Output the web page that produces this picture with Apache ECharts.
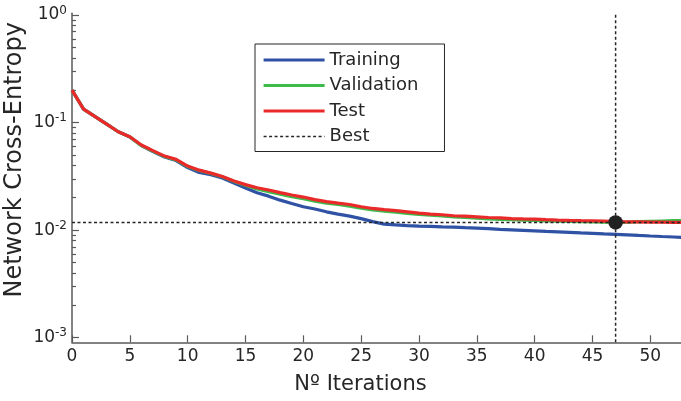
<!DOCTYPE html>
<html><head><meta charset="utf-8">
<script src="https://cdn.jsdelivr.net/npm/echarts@6/dist/echarts.min.js"></script>
<style>html,body{margin:0;padding:0;background:#fff}#c{width:681px;height:401px}</style>
</head><body><div id="c"></div>
<script>
const iterations = [0,1,2,3,4,5,6,7,8,9,10,11,12,13,14,15,16,17,18,19,20,21,22,23,24,25,26,27,28,29,30,31,32,33,34,35,36,37,38,39,40,41,42,43,44,45,46,47,48,49,50,51,52,53];
const training = [0.2005,0.1335,0.1134,0.0966,0.0821,0.0733,0.0611,0.0537,0.0478,0.0443,0.0381,0.0344,0.0328,0.0305,0.0274,0.0246,0.0223,0.0207,0.0190,0.0177,0.0165,0.0157,0.0148,0.0141,0.0135,0.0128,0.0120,0.01137,0.01118,0.01101,0.01090,0.01083,0.01074,0.01067,0.01055,0.01044,0.01033,0.01017,0.01006,0.00995,0.00984,0.00973,0.00963,0.00953,0.00942,0.00932,0.00922,0.00914,0.00905,0.00893,0.00882,0.00872,0.00863,0.00851];
const validation = [0.2005,0.1335,0.1134,0.0966,0.0821,0.0736,0.0610,0.0543,0.0483,0.0450,0.0390,0.0358,0.0337,0.0313,0.0284,0.0262,0.0241,0.0228,0.0216,0.0205,0.0196,0.0186,0.0178,0.0173,0.0167,0.0160,0.0154,0.0150,0.0147,0.0143,0.0140,0.0138,0.01355,0.0133,0.0131,0.0129,0.0127,0.01261,0.0125,0.0124,0.01232,0.01221,0.01213,0.01206,0.01198,0.01193,0.01187,0.01179,0.01187,0.01198,0.01208,0.01216,0.01223,0.01229];
const test = [0.2005,0.1335,0.1134,0.0966,0.0821,0.0738,0.0618,0.0549,0.0488,0.0455,0.0394,0.0361,0.0339,0.0315,0.0286,0.0265,0.0248,0.0236,0.0223,0.0212,0.0203,0.0192,0.0184,0.0178,0.0173,0.0165,0.0159,0.0155,0.0152,0.0148,0.0144,0.0141,0.0139,0.0136,0.0135,0.0133,0.0131,0.0130,0.0128,0.0127,0.01266,0.0125,0.0124,0.01232,0.01226,0.01221,0.01213,0.01200,0.01195,0.01193,0.01187,0.01187,0.01182,0.01179];
const bestEpoch = 47;
const bestPerf = 0.01179;
const xMin = 0, xMax = 53;
const yMin = 0.000906, yMax = 1.037;
const xTicks = [0,5,10,15,20,25,30,35,40,45,50];
const yMajorTicks = [0.001,0.01,0.1,1];
const yMinorTicks = [0.002,0.003,0.004,0.005,0.006,0.007,0.008,0.009,0.02,0.03,0.04,0.05,0.06,0.07,0.08,0.09,0.2,0.3,0.4,0.5,0.6,0.7,0.8,0.9];

const pair = arr => iterations.map((x, i) => [x, arr[i]]);
const axisColor = '#5a5a5a';
const textColor = '#262626';
const font = 'DejaVu Sans';
const bestStyle = {color: '#262626', width: 1.5, type: [3, 2.5]};
const lw = 3.2;

const chart = echarts.init(document.getElementById('c'), null, {renderer: 'canvas'});
chart.setOption({
  backgroundColor: '#fff',
  animation: false,
  textStyle: {fontFamily: font},
  grid: {left: 72, right: -4, top: 13.3, bottom: 58.7, outerBoundsMode: 'none', containLabel: false},
  legend: {
    orient: 'vertical', left: 255, top: 44,
    padding: [7, 26, 6, 7], itemGap: 7.5, itemWidth: 61, itemHeight: 18,
    borderColor: '#262626', borderWidth: 1, backgroundColor: '#fff',
    itemStyle: {opacity: 0},
    textStyle: {fontFamily: font, fontSize: 18, color: textColor, lineHeight: 18},
    data: [
      {name: 'Training', lineStyle: {width: lw}},
      {name: 'Validation', lineStyle: {width: lw}},
      {name: 'Test', lineStyle: {width: lw}},
      {name: 'Best', lineStyle: {width: 1.5}}
    ]
  },
  xAxis: {
    type: 'value', min: xMin, max: xMax,
    name: 'Nº Iterations', nameLocation: 'middle', nameGap: 32, nameMoveOverlap: false,
    nameTextStyle: {fontFamily: font, fontSize: 21, color: textColor, padding: [0, 36, 0, 0]},
    axisLine: {show: true, lineStyle: {color: axisColor, width: 1.5}},
    axisTick: {show: true, inside: true, length: 7, customValues: xTicks, lineStyle: {color: axisColor, width: 1.2}},
    axisLabel: {customValues: xTicks, margin: 6, fontFamily: font, fontSize: 17, color: textColor},
    splitLine: {show: false}
  },
  yAxis: [{
    type: 'log', min: yMin, max: yMax, position: 'left',
    name: 'Network Cross-Entropy', nameLocation: 'middle', nameGap: 45, nameMoveOverlap: false,
    nameTextStyle: {fontFamily: font, fontSize: 24, color: textColor, padding: [0, 0, 0, 36]},
    axisLine: {show: true, lineStyle: {color: axisColor, width: 1.5}},
    axisTick: {show: true, inside: true, length: 7, customValues: yMajorTicks, lineStyle: {color: axisColor, width: 1.2}},
    axisLabel: {
      customValues: yMajorTicks, margin: 5, color: textColor,
      formatter: v => '{b|10}{s|' + Math.round(Math.log10(v)) + '}',
      rich: {b: {fontFamily: font, fontSize: 17, color: textColor}, s: {fontFamily: font, fontSize: 12, color: textColor, padding: [0,0,9,0]}}
    },
    splitLine: {show: false}
  }, {
    type: 'log', min: yMin, max: yMax, position: 'left', offset: 0,
    axisLine: {show: false},
    axisTick: {show: true, inside: true, length: 4, customValues: yMinorTicks, lineStyle: {color: axisColor, width: 1.2}},
    axisLabel: {show: false},
    splitLine: {show: false}
  }],
  series: [
    {name: 'Training', type: 'line', data: pair(training), showSymbol: false, symbol: 'none', lineStyle: {color: '#2f52a4', width: lw}, itemStyle: {color: '#2f52a4'}, z: 2},
    {name: 'Validation', type: 'line', data: pair(validation), showSymbol: false, symbol: 'none', lineStyle: {color: '#3dba4a', width: lw}, itemStyle: {color: '#3dba4a'}, z: 3},
    {name: 'Test', type: 'line', data: pair(test), showSymbol: false, symbol: 'none', lineStyle: {color: '#ea2a2a', width: lw}, itemStyle: {color: '#ea2a2a'}, z: 4},
    {name: 'Best', type: 'line', data: [[xMin, bestPerf], [xMax, bestPerf]], showSymbol: false, symbol: 'none', lineStyle: bestStyle, itemStyle: {color: '#262626'}, z: 5},
    {name: 'Best', type: 'line', data: [[bestEpoch, yMin], [bestEpoch, yMax]], showSymbol: false, symbol: 'none', lineStyle: bestStyle, itemStyle: {color: '#262626'}, z: 5},
    {name: 'BestPoint', type: 'scatter', data: [[bestEpoch, bestPerf]], symbol: 'circle', symbolSize: 14.5, itemStyle: {color: '#222', opacity: 1}, z: 6}
  ]
});
</script></body></html>
